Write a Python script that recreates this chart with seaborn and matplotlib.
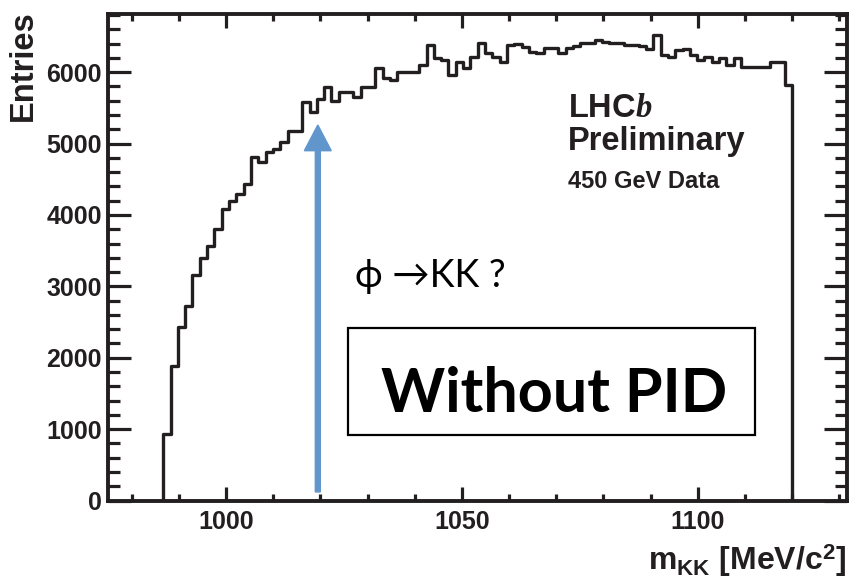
import numpy as np
import pandas as pd
import matplotlib
matplotlib.use("Agg")
import matplotlib.pyplot as plt
import seaborn as sns
from matplotlib.ticker import FixedLocator, MultipleLocator
from matplotlib.patches import Rectangle

# ---------------- data ----------------
bin_start = 986.7      # MeV/c^2, first non-empty bin edge
bin_width = 1.55       # MeV/c^2
counts = [
    930, 1890, 2430, 2720, 3160, 3390, 3560, 3800, 4090, 4190,
    4300, 4440, 4815, 4745, 4885, 4930, 5025, 5175, 5175, 5585,
    5440, 5620, 5795, 5595, 5725, 5725, 5655, 5795, 5795, 6055,
    5915, 5890, 6005, 6005, 6005, 6100, 6380, 6195, 6170, 5960,
    6145, 6055, 6215, 6405, 6265, 6215, 6145, 6380, 6400, 6355,
    6285, 6265, 6345, 6335, 6265, 6335, 6365, 6415, 6405, 6450,
    6425, 6405, 6405, 6380, 6380, 6370, 6325, 6520, 6240, 6215,
    6310, 6325, 6240, 6170, 6215, 6145, 6195, 6100, 6195, 6075,
    6075, 6075, 6075, 6145, 6145, 5820,
]
x_ticks = [1000, 1050, 1100]
y_ticks = [0, 1000, 2000, 3000, 4000, 5000, 6000]
x_range = (975, 1131.6)
y_range = (0, 6815)
phi_mass = 1019.46
arrow_from, arrow_to = 120, 5260

# ---------------- style ----------------
sns.set_theme(style="ticks")
plt.rcParams["font.family"] = ["Liberation Sans", "DejaVu Sans"]
plt.rcParams["font.weight"] = "bold"
plt.rcParams["mathtext.fontset"] = "custom"
plt.rcParams["mathtext.rm"] = "Liberation Sans:bold"
plt.rcParams["mathtext.bf"] = "Liberation Sans:bold"
plt.rcParams["mathtext.it"] = "Liberation Serif:italic"

INK = "#231f20"
W, H = 850, 578
fx = lambda px: px / W
fy = lambda py: 1 - py / H

n = len(counts)
edges = (bin_start + bin_width * np.arange(n + 1)).tolist()
centers = [0.5 * (a + b) for a, b in zip(edges[:-1], edges[1:])]
df = pd.DataFrame({"m": centers, "entries": counts})

fig = plt.figure(figsize=(8.5, 5.78), dpi=100)
ax = fig.add_axes([fx(108), fy(500.5), (847 - 108) / W, (500.5 - 14) / H])

sns.histplot(data=df, x="m", weights="entries", bins=edges, element="step",
             fill=True, color=INK, facecolor="none", edgecolor=INK,
             linewidth=2.4, ax=ax)

ax.set_xlim(*x_range)
ax.set_ylim(*y_range)
ax.set_xlabel("")
ax.set_ylabel("")

for s in ax.spines.values():
    s.set_linewidth(2.8)
    s.set_color(INK)
    s.set_visible(True)

ax.xaxis.set_major_locator(FixedLocator(x_ticks))
ax.xaxis.set_minor_locator(MultipleLocator(10))
ax.yaxis.set_major_locator(FixedLocator(y_ticks))
ax.yaxis.set_minor_locator(MultipleLocator(200))
ax.tick_params(which="both", direction="in", top=True, right=True,
               color=INK, width=2.3, labelcolor=INK, labelsize=18)
ax.tick_params(axis="x", which="major", length=10, pad=6.5)
ax.tick_params(axis="x", which="minor", length=5)
ax.tick_params(axis="y", which="major", length=16.5, pad=4.5)
ax.tick_params(axis="y", which="minor", length=8.5)

# axis titles
fig.text(fx(8), fy(10), "Entries", rotation=90, ha="left", va="top",
         fontsize=23.5, color=INK)
fig.text(fx(846), fy(570), r"$\mathrm{m_{KK}}$ [MeV/c$^{2}$]", ha="right",
         va="baseline", fontsize=23, color=INK)

# LHCb label
fig.text(fx(568), fy(117), r"LHC$b$", ha="left", va="baseline", fontsize=23.5, color=INK)
fig.text(fx(568), fy(150), "Preliminary", ha="left", va="baseline", fontsize=23.5, color=INK)
fig.text(fx(568), fy(188), "450 GeV Data", ha="left", va="baseline", fontsize=17, color=INK)

# phi arrow
ax.arrow(phi_mass, arrow_from, 0, arrow_to - arrow_from, width=1.05,
         head_width=5.7, head_length=360, length_includes_head=True,
         color="#6096cc", zorder=5)

fig.text(fx(355), fy(287), "ϕ →KK ?", ha="left", va="baseline", fontsize=27,
         fontweight="normal", family=["Lato", "DejaVu Sans"], color="black")

# "Without PID" box
fig.patches.append(Rectangle((fx(348), fy(435)), 407 / W, 107 / H, transform=fig.transFigure,
                             fill=False, edgecolor="black", linewidth=1.6))
fig.text(fx(554.5), fy(411.7), "Without PID", ha="center", va="baseline", fontsize=44,
         fontweight="bold", family=["Lato", "DejaVu Sans"], color="black")

fig.savefig("out.png", dpi=100, facecolor="white")
